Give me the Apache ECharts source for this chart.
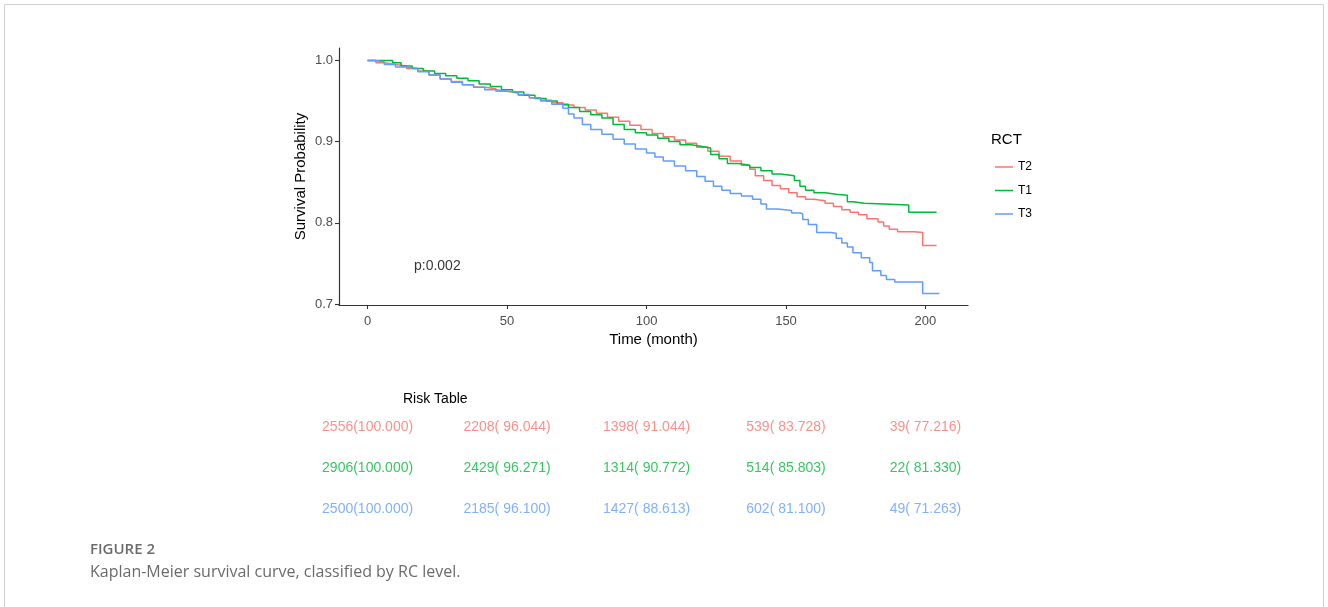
<!DOCTYPE html>
<html>
<head>
<meta charset="utf-8">
<script src="https://cdn.jsdelivr.net/npm/echarts@6/dist/echarts.min.js"></script>
<style>
html,body{margin:0;padding:0;background:#fff;}
#c{width:1328px;height:607px;}
</style>
</head>
<body>
<div id="c"></div>
<script>
// ---- data ----
const groups = ['T2', 'T1', 'T3'];
const colors = { T2: '#F8766D', T1: '#00BA38', T3: '#619CFF' };

const timeT2 = [0,3,6,10,14,18,22,26,30,34,38,42,46,50,54,58,62,66,70,74,78,82,86,90,94,98,102,106,110,114,118,122,126,130,134,137,139,142,145,148,151,154,157,160,164,167,170,173,176,179,183,185,187,190,196,199,204];
const survT2 = [1.0,0.997,0.995,0.993,0.99,0.987,0.982,0.977,0.974,0.970,0.967,0.965,0.962,0.960,0.957,0.954,0.951,0.948,0.945,0.942,0.939,0.935,0.930,0.925,0.920,0.915,0.910,0.906,0.902,0.898,0.893,0.888,0.882,0.876,0.871,0.866,0.858,0.852,0.846,0.842,0.837,0.832,0.829,0.827,0.824,0.820,0.816,0.813,0.810,0.805,0.801,0.796,0.792,0.789,0.788,0.772,0.772];

const timeT1 = [0,7,9,12,16,20,24,28,32,36,40,44,48,52,56,60,64,68,72,76,80,84,88,92,96,100,104,108,112,116,120,123,126,129,133,137,141,145,148,153,155,157,160,164,168,172,174,178,194,204];
const survT1 = [1.0,1.0,0.997,0.993,0.990,0.987,0.984,0.981,0.978,0.975,0.971,0.968,0.964,0.961,0.957,0.953,0.950,0.946,0.942,0.937,0.933,0.929,0.921,0.915,0.911,0.908,0.904,0.900,0.896,0.894,0.892,0.884,0.879,0.873,0.871,0.868,0.864,0.860,0.858,0.852,0.845,0.840,0.837,0.835,0.834,0.826,0.824,0.822,0.813,0.813];

const timeT3 = [0,3,6,10,14,18,22,26,30,34,38,42,46,50,54,58,62,66,70,72,74,77,80,84,88,92,96,100,103,106,110,114,118,121,124,127,130,134,138,141,143,147,152,155,156,158,161,166,168,170,172,174,177,180,181,184,186,189,199,205];
const survT3 = [1.0,0.998,0.995,0.992,0.990,0.986,0.982,0.977,0.973,0.970,0.967,0.964,0.962,0.961,0.958,0.954,0.950,0.946,0.941,0.934,0.929,0.921,0.915,0.909,0.903,0.897,0.891,0.886,0.881,0.876,0.870,0.864,0.857,0.851,0.845,0.840,0.836,0.833,0.829,0.823,0.817,0.815,0.812,0.811,0.804,0.798,0.788,0.787,0.781,0.775,0.770,0.763,0.757,0.751,0.741,0.735,0.730,0.727,0.713,0.713];

const xTicks = [0, 50, 100, 150, 200];
const yTicks = [0.7, 0.8, 0.9, 1.0];

// risk table
const riskTimes = [0, 50, 100, 150, 200];
const riskT2 = ['2556(100.000)', '2208( 96.044)', '1398( 91.044)', '539( 83.728)', '39( 77.216)'];
const riskT1 = ['2906(100.000)', '2429( 96.271)', '1314( 90.772)', '514( 85.803)', '22( 81.330)'];
const riskT3 = ['2500(100.000)', '2185( 96.100)', '1427( 88.613)', '602( 81.100)', '49( 71.263)'];

const pText = 'p:0.002';
const pPos = [25, 0.746];

// ---- build ----
const curves = { T2: [timeT2, survT2], T1: [timeT1, survT1], T3: [timeT3, survT3] };
const risk = { T2: riskT2, T1: riskT1, T3: riskT3 };
const FONT = "'Liberation Sans', Arial, sans-serif";

const series = [];
groups.forEach(g => {
  const [t, s] = curves[g];
  series.push({
    name: g, type: 'line', step: 'end', xAxisIndex: 0, yAxisIndex: 0,
    data: t.map((v, i) => [v, s[i]]),
    showSymbol: false, symbol: 'none',
    lineStyle: { color: colors[g], width: 1.5 },
    itemStyle: { color: colors[g] },
    animation: false
  });
});
series.push({
  type: 'scatter', xAxisIndex: 0, yAxisIndex: 0, symbolSize: 0, silent: true,
  data: [pPos],
  label: { show: true, position: 'inside', formatter: pText, color: '#000', fontSize: 14, fontFamily: FONT }
});
groups.forEach(g => {
  series.push({
    type: 'scatter', xAxisIndex: 1, yAxisIndex: 1, symbolSize: 0, silent: true,
    data: riskTimes.map((t, i) => [t, g, risk[g][i]]),
    label: { show: true, position: 'inside', formatter: p => p.data[2], color: colors[g], fontSize: 14, fontFamily: FONT }
  });
});

const lineSt = { color: '#333', width: 1.2 };
const tickSt = { color: '#333', width: 1.1 };

const option = {
  animation: false,
  textStyle: { fontFamily: FONT },
  grid: [
    { left: 339, right: 360, top: 48, height: 257 },
    { left: 339, right: 360, top: 406.5, height: 123 }
  ],
  xAxis: [
    {
      type: 'value', gridIndex: 0, min: -10.25, max: 215.25,
      axisLine: { show: true, onZero: false, lineStyle: lineSt },
      splitLine: { show: false },
      axisTick: { show: true, length: 4, customValues: xTicks, lineStyle: tickSt },
      axisLabel: { customValues: xTicks, color: '#4D4D4D', fontSize: 13, margin: 10, fontFamily: FONT },
      name: 'Time (month)', nameLocation: 'middle', nameGap: 27,
      nameTextStyle: { color: '#000', fontSize: 15, fontFamily: FONT }
    },
    { type: 'value', gridIndex: 1, min: -10.25, max: 215.25, show: false }
  ],
  yAxis: [
    {
      type: 'value', gridIndex: 0, min: 0.6987, max: 1.0153,
      axisLine: { show: true, onZero: false, lineStyle: lineSt },
      splitLine: { show: false },
      axisTick: { show: true, length: 4, customValues: yTicks, lineStyle: tickSt },
      axisLabel: { customValues: yTicks, color: '#4D4D4D', fontSize: 13, margin: 6, fontFamily: FONT, formatter: v => v.toFixed(1) },
      name: 'Survival Probability', nameLocation: 'middle', nameGap: 31,
      nameTextStyle: { color: '#000', fontSize: 15, fontFamily: FONT }
    },
    { type: 'category', gridIndex: 1, data: ['T3', 'T1', 'T2'], show: false }
  ],
  legend: {
    data: groups, orient: 'vertical', left: 990, top: 155,
    icon: 'rect', itemWidth: 18, itemHeight: 1.5, itemGap: 9.5,
    textStyle: { color: '#000', fontSize: 12, fontFamily: FONT, lineHeight: 14 },
    selectedMode: false
  },
  graphic: [
    { type: 'rect', shape: { x: 4.5, y: 4.5, width: 1319, height: 700 }, style: { fill: 'none', stroke: '#cfcfcf', lineWidth: 1 }, silent: true },
    { type: 'text', left: 991, top: 132, style: { text: 'RCT', font: "15px " + FONT, fill: '#000' } },
    { type: 'text', left: 403, top: 392, style: { text: 'Risk Table', font: "14px " + FONT, fill: '#000' } },
    { type: 'text', left: 90, top: 542, style: { text: 'FIGURE 2', font: "600 15px 'Open Sans', 'Noto Sans', sans-serif", fill: '#6b6b6b' } },
    { type: 'text', left: 90, top: 564, style: { text: 'Kaplan-Meier survival curve, classified by RC level.', font: "16px 'Open Sans', 'Noto Sans', sans-serif", fill: '#6b6b6b' } }
  ],
  series: series
};

const chart = echarts.init(document.getElementById('c'), null, { renderer: 'canvas' });
chart.setOption(option);
</script>
</body>
</html>
